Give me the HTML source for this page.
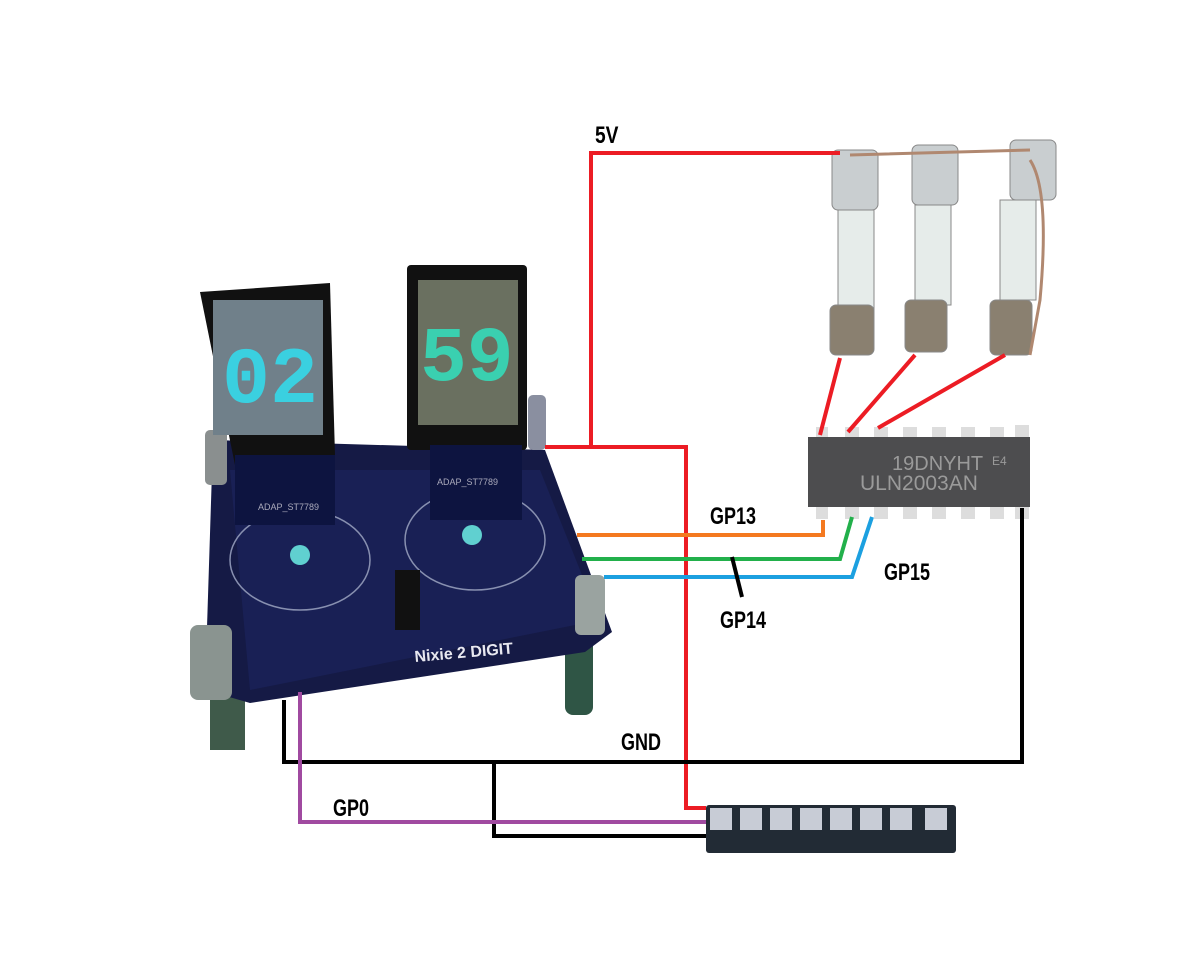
<!DOCTYPE html>
<html><head><meta charset="utf-8"><style>
html,body{margin:0;padding:0;background:#fff;}
svg{display:block;}
.lbl{font-family:"Liberation Sans",sans-serif;font-weight:bold;font-size:24px;fill:#000;}
</style></head><body>
<svg width="1201" height="967" viewBox="0 0 1201 967" xmlns="http://www.w3.org/2000/svg">
<!-- board legs -->
<rect x="210" y="680" width="35" height="70" fill="#3f5a4a"/>
<rect x="565" y="630" width="28" height="85" rx="8" fill="#2f5545"/>
<!-- board -->
<polygon points="213,440 545,450 612,632 585,652 250,703 205,690" fill="#151a45"/>
<polygon points="230,470 540,470 600,620 250,690" fill="#1c2460" opacity="0.6"/>
<ellipse cx="300" cy="560" rx="70" ry="50" fill="none" stroke="#8890b0" stroke-width="1.5"/>
<ellipse cx="475" cy="540" rx="70" ry="50" fill="none" stroke="#8890b0" stroke-width="1.5"/>
<text x="415" y="662" font-family="Liberation Sans,sans-serif" font-weight="bold" font-size="16" fill="#e8e8f0" transform="rotate(-5 415 662)">Nixie 2 DIGIT</text>
<rect x="395" y="570" width="25" height="60" fill="#111"/>
<circle cx="300" cy="555" r="10" fill="#60d0d0"/>
<circle cx="472" cy="535" r="10" fill="#60d0d0"/>
<!-- standoffs -->
<rect x="190" y="625" width="42" height="75" rx="8" fill="#8a9490"/>
<rect x="575" y="575" width="30" height="60" rx="6" fill="#9aa3a0"/>
<rect x="205" y="430" width="22" height="55" rx="5" fill="#8a8f8f"/>
<rect x="528" y="395" width="18" height="55" rx="5" fill="#8a8fa0"/>
<!-- displays -->
<polygon points="200,292 330,283 335,455 235,465" fill="#111"/>
<rect x="213" y="300" width="110" height="135" fill="#70808a"/>
<text x="222" y="402" font-family="Liberation Mono,monospace" font-weight="bold" font-size="80" fill="#3ad0e0">02</text>
<rect x="235" y="455" width="100" height="70" fill="#0d1440"/>
<text x="258" y="510" font-family="Liberation Sans,sans-serif" font-size="9" fill="#aab">ADAP_ST7789</text>
<rect x="407" y="265" width="120" height="185" rx="4" fill="#111"/>
<rect x="418" y="280" width="100" height="145" fill="#6a7060"/>
<text x="420" y="380" font-family="Liberation Mono,monospace" font-weight="bold" font-size="78" fill="#3ad0b0">59</text>
<rect x="430" y="445" width="92" height="75" fill="#0d1440"/>
<text x="437" y="485" font-family="Liberation Sans,sans-serif" font-size="9" fill="#aab">ADAP_ST7789</text>
<!-- fuses -->
<g fill="#d7dcdc" stroke="#888" stroke-width="1">
<rect x="832" y="150" width="46" height="60" rx="6" fill="#c9ced0"/>
<rect x="838" y="210" width="36" height="100" fill="#e6ecea"/>
<rect x="830" y="305" width="44" height="50" rx="6" fill="#8a8070"/>
<rect x="912" y="145" width="46" height="60" rx="6" fill="#c9ced0"/>
<rect x="915" y="205" width="36" height="100" fill="#e6ecea"/>
<rect x="905" y="300" width="42" height="52" rx="6" fill="#8a8070"/>
<rect x="1010" y="140" width="46" height="60" rx="6" fill="#c9ced0"/>
<rect x="1000" y="200" width="36" height="100" fill="#e6ecea"/>
<rect x="990" y="300" width="42" height="55" rx="6" fill="#8a8070"/>
</g>
<path d="M850 155 L1030 150 M1030 160 Q1050 190 1040 300 L1030 355" stroke="#b08870" stroke-width="3" fill="none"/>
<!-- chip -->
<g fill="#ddd">
<rect x="816" y="427" width="12" height="14"/><rect x="845" y="427" width="14" height="14"/><rect x="874" y="427" width="14" height="14"/><rect x="903" y="427" width="14" height="14"/><rect x="932" y="427" width="14" height="14"/><rect x="961" y="427" width="14" height="14"/><rect x="990" y="427" width="14" height="14"/><rect x="1015" y="425" width="14" height="14"/>
<rect x="816" y="505" width="12" height="14"/><rect x="845" y="505" width="14" height="14"/><rect x="874" y="505" width="14" height="14"/><rect x="903" y="505" width="14" height="14"/><rect x="932" y="505" width="14" height="14"/><rect x="961" y="505" width="14" height="14"/><rect x="990" y="505" width="14" height="14"/><rect x="1015" y="505" width="14" height="14"/>
</g>
<rect x="808" y="437" width="222" height="70" fill="#4d4d4f"/>
<text x="892" y="470" font-family="Liberation Sans,sans-serif" font-size="20" fill="#9a9a9a">19DNYHT</text>
<text x="992" y="465" font-family="Liberation Sans,sans-serif" font-size="12" fill="#9a9a9a">E4</text>
<text x="860" y="490" font-family="Liberation Sans,sans-serif" font-size="21" fill="#9a9a9a">ULN2003AN</text>
<!-- LED strip -->
<rect x="706" y="805" width="250" height="48" rx="3" fill="#222b35"/>
<g fill="#c8ccd6">
<rect x="710" y="808" width="22" height="22"/><rect x="740" y="808" width="22" height="22"/><rect x="770" y="808" width="22" height="22"/><rect x="800" y="808" width="22" height="22"/><rect x="830" y="808" width="22" height="22"/><rect x="860" y="808" width="22" height="22"/><rect x="890" y="808" width="22" height="22"/><rect x="925" y="808" width="22" height="22"/>
</g>
<!-- wires -->
<g fill="none" stroke-width="4" stroke-linejoin="miter">
<path d="M840 153 L591 153 L591 448" stroke="#ec1c24"/>
<path d="M545 447 L686 447 L686 808 L706 808" stroke="#ec1c24"/>
<path d="M820 435 L840 358 M848 432 L915 355 M878 428 L1005 355" stroke="#ec1c24"/>
<path d="M577 535 L823 535 L823 520" stroke="#f47920"/>
<path d="M582 559 L840 559 L852 517" stroke="#22b04b"/>
<path d="M604 577 L852 577 L872 517" stroke="#1ca0e0"/>
<path d="M732 557 L742 597" stroke="#000"/>
<path d="M1022 508 L1022 762 L284 762 L284 700" stroke="#000"/>
<path d="M494 762 L494 836 L706 836" stroke="#000"/>
<path d="M300 692 L300 822 L706 822" stroke="#a04aa0"/>
</g>
<g class="lbl">
<text x="595" y="143" transform="translate(595 0) scale(0.8 1) translate(-595 0)">5V</text>
<text x="710" y="524" transform="translate(710 0) scale(0.75 1) translate(-710 0)">GP13</text>
<text x="720" y="628" transform="translate(720 0) scale(0.75 1) translate(-720 0)">GP14</text>
<text x="884" y="580" transform="translate(884 0) scale(0.75 1) translate(-884 0)">GP15</text>
<text x="621" y="750" transform="translate(621 0) scale(0.75 1) translate(-621 0)">GND</text>
<text x="333" y="816" transform="translate(333 0) scale(0.75 1) translate(-333 0)">GP0</text>
</g>
</svg>
</body></html>
